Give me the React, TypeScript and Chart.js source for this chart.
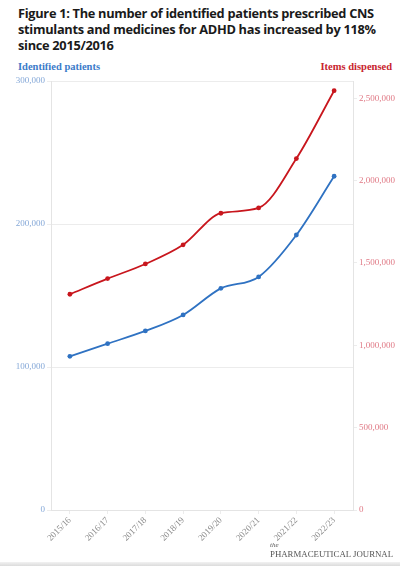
import React, { useEffect, useRef } from "react";
import { Chart, registerables } from "chart.js";

Chart.register(...registerables);

const categories = ["2015/16", "2016/17", "2017/18", "2018/19", "2019/20", "2020/21", "2021/22", "2022/23"];
const identifiedPatients = [107500, 116300, 125200, 136400, 155000, 163000, 192300, 233400];
const itemsDispensed = [1310000, 1405000, 1494000, 1610000, 1802000, 1834000, 2134000, 2546000];
const leftTicks = [0, 100000, 200000, 300000];
const rightTicks = [0, 500000, 1000000, 1500000, 2000000, 2500000];

const BLUE = "#2f72c2";
const RED = "#c8161d";
const BLUE_LABEL = "#86a9d8";
const RED_LABEL = "#e07a86";
const GRID = "#ececec";

const fmt = (v: number) => v.toLocaleString("en-US");

export default function App() {
  const ref = useRef<HTMLCanvasElement | null>(null);

  useEffect(() => {
    if (!ref.current) return;
    const chart = new Chart(ref.current, {
      type: "line",
      data: {
        labels: categories,
        datasets: [
          {
            label: "Identified patients",
            data: identifiedPatients,
            yAxisID: "y",
            borderColor: BLUE,
            backgroundColor: BLUE,
            borderWidth: 1.8,
            pointRadius: 2.4,
            pointBorderWidth: 0,
            cubicInterpolationMode: "monotone",
          },
          {
            label: "Items dispensed",
            data: itemsDispensed,
            yAxisID: "y1",
            borderColor: RED,
            backgroundColor: RED,
            borderWidth: 1.8,
            pointRadius: 2.4,
            pointBorderWidth: 0,
            cubicInterpolationMode: "monotone",
          },
        ],
      },
      options: {
        animation: false,
        responsive: false,
        layout: { padding: { top: 21, left: 0, right: 0, bottom: 0 } },
        plugins: { legend: { display: false }, tooltip: { enabled: false } },
        scales: {
          x: {
            offset: true,
            afterFit: (s: any) => { s.height = 40; },
            grid: { drawOnChartArea: false, drawTicks: true, tickLength: 4, color: GRID },
            border: { display: true, color: "#e4e4e4" },
            ticks: {
              minRotation: 45,
              maxRotation: 45,
              padding: 1,
              color: "#8c8c8c",
              font: { family: "'Liberation Serif', serif", size: 9 },
            },
          },
          y: {
            position: "left",
            min: 0,
            max: 300000,
            afterFit: (s: any) => { s.width = 51; },
            afterBuildTicks: (s: any) => { s.ticks = leftTicks.map((v) => ({ value: v })); },
            grid: { color: GRID, tickLength: 4, drawTicks: true },
            border: { display: true, color: "#e4e4e4" },
            ticks: {
              padding: 2,
              color: BLUE_LABEL,
              font: { family: "'Liberation Serif', serif", size: 9 },
              callback: (v: any) => fmt(Number(v)),
            },
          },
          y1: {
            position: "right",
            min: 0,
            max: 2605000,
            afterFit: (s: any) => { s.width = 47; },
            afterBuildTicks: (s: any) => { s.ticks = rightTicks.map((v) => ({ value: v })); },
            grid: { drawOnChartArea: false, color: GRID, tickLength: 4, drawTicks: true },
            border: { display: true, color: "#e4e4e4" },
            ticks: {
              padding: 2,
              color: RED_LABEL,
              font: { family: "'Liberation Serif', serif", size: 9 },
              callback: (v: any) => fmt(Number(v)),
            },
          },
        },
      },
    });
    return () => chart.destroy();
  }, []);

  return (
    <div style={{ position: "fixed", top: 0, left: 0, width: 400, height: 566, background: "#fff", overflow: "hidden" }}>
      <div
        style={{
          position: "absolute",
          top: 5,
          left: 18,
          fontFamily: "'Open Sans', sans-serif",
          fontWeight: 700,
          fontSize: 12.8,
          letterSpacing: -0.3,
          lineHeight: "16px",
          color: "#1a1a1a",
          whiteSpace: "nowrap",
        }}
      >
        Figure 1: The number of identified patients prescribed CNS
        <br />
        stimulants and medicines for ADHD has increased by 118%
        <br />
        since 2015/2016
      </div>
      <div
        style={{
          position: "absolute",
          top: 61,
          left: 18,
          fontFamily: "'Liberation Serif', serif",
          fontWeight: 700,
          fontSize: 10.5,
          color: "#3b7bc9",
          whiteSpace: "nowrap",
        }}
      >
        Identified patients
      </div>
      <div
        style={{
          position: "absolute",
          top: 61,
          right: 8,
          fontFamily: "'Liberation Serif', serif",
          fontWeight: 700,
          fontSize: 10.5,
          color: "#c8242d",
          whiteSpace: "nowrap",
        }}
      >
        Items dispensed
      </div>
      <canvas ref={ref} width={400} height={490} style={{ position: "absolute", top: 60, left: 0, width: 400, height: 490 }} />
      <div
        style={{
          position: "absolute",
          top: 541,
          left: 270,
          fontFamily: "'Liberation Serif', serif",
          color: "#555",
          lineHeight: "9px",
          whiteSpace: "nowrap",
        }}
      >
        <div style={{ fontStyle: "italic", fontSize: 7 }}>the</div>
        <div style={{ fontSize: 8.8 }}>PHARMACEUTICAL JOURNAL</div>
      </div>
      <div
        style={{
          position: "absolute",
          left: 0,
          bottom: 0,
          width: 400,
          height: 4,
          background: "linear-gradient(#f2f2f2, #dcdcdc)",
        }}
      />
    </div>
  );
}
